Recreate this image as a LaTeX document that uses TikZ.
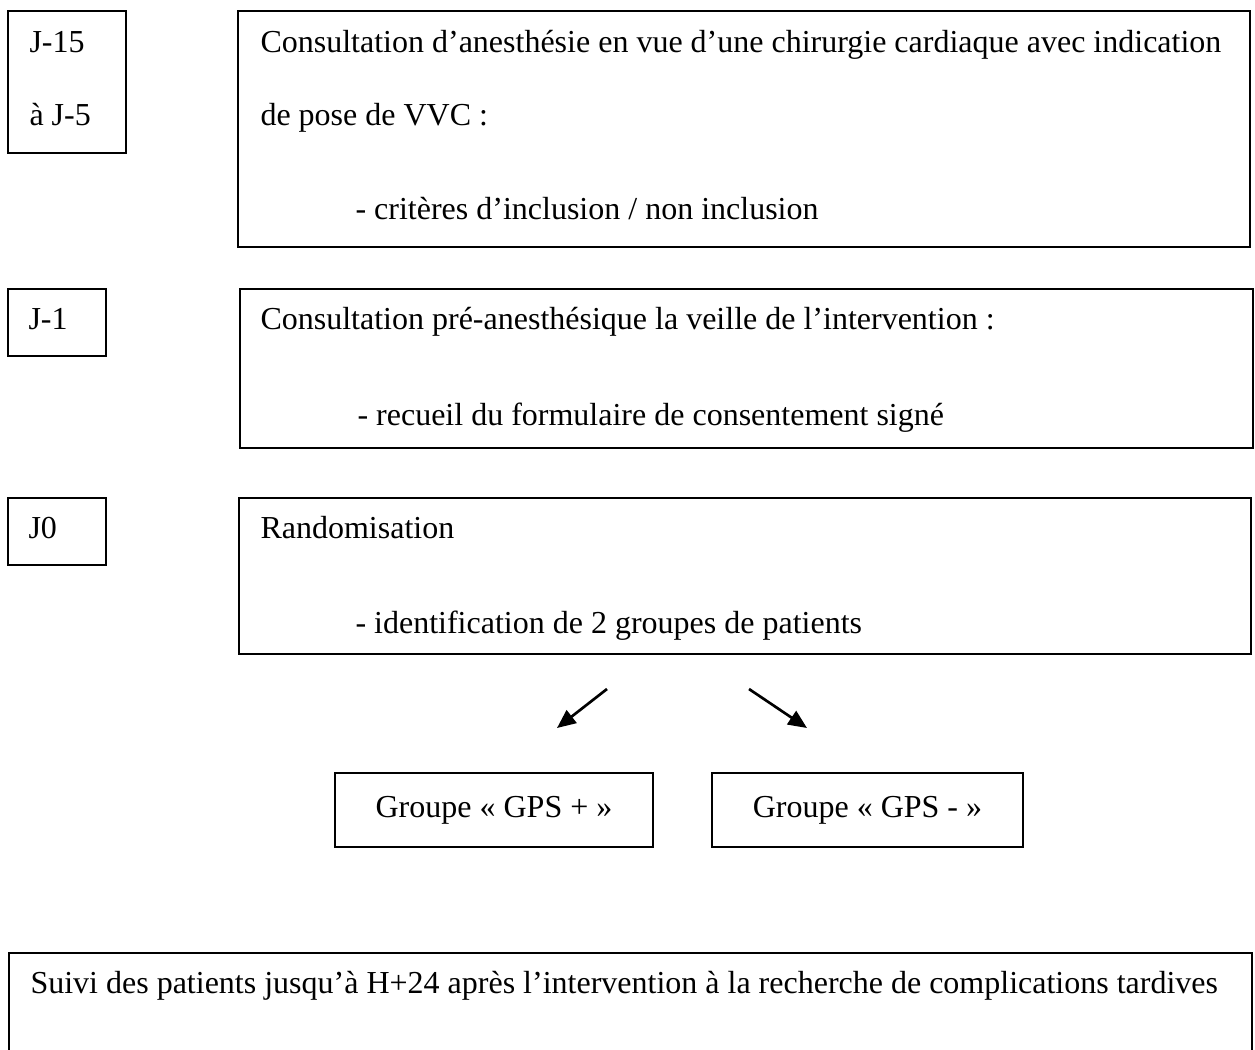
\documentclass[tikz,border=0pt]{standalone}
\usepackage{fontspec}
\setmainfont{Liberation Serif}
\usetikzlibrary{fit,arrows.meta}
\tikzset{
  box/.style={draw=black, line width=0.75pt, inner sep=0pt, fill=none},
  txt/.style={inner sep=0pt, anchor=base west, font=\fontsize{12pt}{14pt}\selectfont},
  ctxt/.style={inner sep=0pt, anchor=center, font=\fontsize{12pt}{14pt}\selectfont},
  arr/.style={line width=1pt, -{Triangle[length=7pt,width=6pt]}}
}
\begin{document}
\begin{tikzpicture}[x=0.375pt,y=-0.375pt]
\clip (0,0) rectangle (1255,1050);
\fill[white] (0,0) rectangle (1255,1050);
% J-15 row
\node[box, fit={(8,11) (126,153)}] (d1) {};
\node[txt] (d1a) at (29,52) {J-15};
\node[txt] (d1b) at (29,125) {à J-5};
\node[box, fit={(238,11) (1250,247)}] (b1) {};
\node[txt] (b1a) at (260,52) {Consultation d’anesthésie en vue d’une chirurgie cardiaque avec indication};
\node[txt] (b1b) at (260,125) {de pose de VVC :};
\node[txt] (b1c) at (355,219) {- critères d’inclusion / non inclusion};
% J-1 row
\node[box, fit={(8,289) (106,356)}] (d2) {};
\node[txt] (d2a) at (28,329) {J-1};
\node[box, fit={(240,289) (1253,448)}] (b2) {};
\node[txt] (b2a) at (260,329) {Consultation pré-anesthésique la veille de l’intervention :};
\node[txt] (b2b) at (357,425) {- recueil du formulaire de consentement signé};
% J0 row
\node[box, fit={(8,498) (106,565)}] (d3) {};
\node[txt] (d3a) at (28,538) {J0};
\node[box, fit={(239,498) (1251,654)}] (b3) {};
\node[txt] (b3a) at (260,538) {Randomisation};
\node[txt] (b3b) at (355,633) {- identification de 2 groupes de patients};
% arrows
\coordinate (a1s) at (607,689);
\coordinate (a1e) at (557,728);
\coordinate (a2s) at (749,689);
\coordinate (a2e) at (807,728);
\draw[arr] (a1s) -- (a1e);
\draw[arr] (a2s) -- (a2e);
% groups
\node[box, fit={(335,773) (653,847)}] (g1) {};
\node[ctxt] at (g1.center) (g1t) {Groupe « GPS + »};
\node[box, fit={(712,773) (1023,847)}] (g2) {};
\node[ctxt] at (g2.center) (g2t) {Groupe « GPS - »};
% follow-up
\node[box, fit={(9,953) (1252,1100)}] (b4) {};
\node[txt] (b4a) at (30,993) {Suivi des patients jusqu’à H+24 après l’intervention à la recherche de complications tardives};
\end{tikzpicture}
\end{document}
